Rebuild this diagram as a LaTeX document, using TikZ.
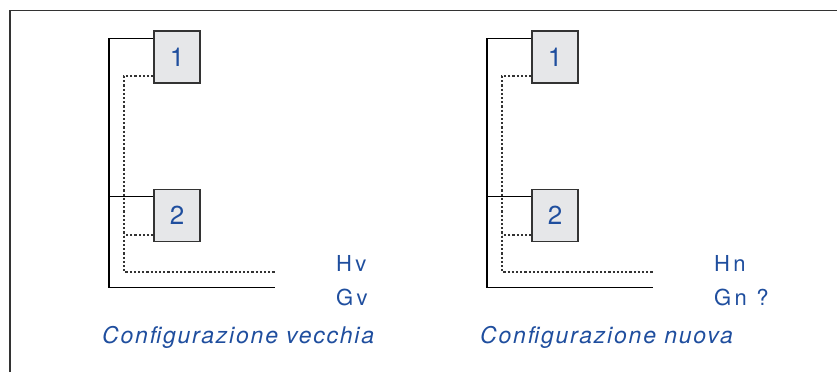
\documentclass[tikz,border=0pt]{standalone}
\usepackage{fontspec}
\setmainfont{TeX Gyre Heros}
\definecolor{txtblue}{HTML}{1F4E9E}
\definecolor{boxgrey}{HTML}{E6E7E9}
\definecolor{linegrey}{HTML}{333333}
\begin{document}
\begin{tikzpicture}[x=1pt,y=-1pt,
  unitbox/.style={draw=linegrey,fill=boxgrey,line width=1.2pt,minimum width=46pt,minimum height=52pt,inner sep=0pt,
    font=\fontsize{26}{30}\selectfont,text=txtblue},
  solidline/.style={draw=black,line width=1.2pt},
  dotline/.style={draw=black!80,line width=1.1pt,dash pattern=on 2.2pt off 2pt},
  lbl/.style={anchor=base west,inner sep=0pt,text=txtblue,font=\fontsize{22}{26}\selectfont\addfontfeatures{LetterSpace=15}},
  captxt/.style={anchor=base west,inner sep=0pt,text=txtblue,font=\fontsize{23}{27}\selectfont\itshape\addfontfeatures{LetterSpace=7.8}}]
\useasboundingbox (0,0) rectangle (837,372);
\draw[linegrey,line width=1.3pt] (10,372) -- (10,10.5) -- (837,10.5);
\foreach \dx/\sa/\sb/\side/\pre in {0/v/v/vecchia/L,378/n/{n ?}/nuova/R}{
  \begin{scope}[xshift=\dx]
  \node[unitbox] (\pre b1) at (177,57) {1};
  \node[unitbox] (\pre b2) at (177,215.5) {2};
  \coordinate (\pre s1) at (109,38.3);
  \coordinate (\pre s2) at (109,287.5);
  \coordinate (\pre se) at (275,287.5);
  \coordinate (\pre sm) at (109,196.7);
  \coordinate (\pre d1) at (124,76);
  \coordinate (\pre d2) at (124,272);
  \coordinate (\pre de) at (275,272);
  \coordinate (\pre dm) at (124,235);
  \draw[solidline] (\pre b1.west |- \pre s1) -- (\pre s1) -- (\pre s2) -- (\pre se);
  \draw[solidline] (\pre b2.west |- \pre sm) -- (\pre sm);
  \draw[dotline] (\pre b1.west |- \pre d1) -- (\pre d1) -- (\pre d2) -- (\pre de);
  \draw[dotline] (\pre b2.west |- \pre dm) -- (\pre dm);
  \node[lbl] (\pre h) at (336,271) {H\sa};
  \node[lbl] (\pre g) at (336,305.5) {G\sb};
  \node[captxt] (\pre c) at (102,343) {Configurazione \side};
  \end{scope}
}
\end{tikzpicture}
\end{document}
